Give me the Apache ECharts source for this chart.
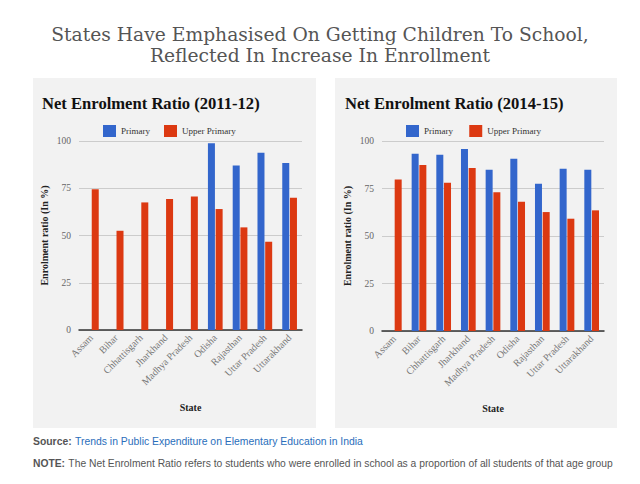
<!DOCTYPE html>
<html><head><meta charset="utf-8">
<style>html,body{margin:0;padding:0;background:#fff;}#c{width:640px;height:484px;}</style>
<script src="https://cdn.jsdelivr.net/npm/echarts@6/dist/echarts.min.js"></script>
</head><body><div id="c"></div>
<script>
const states = ['Assam','Bihar','Chhattisgarh','Jharkhand','Madhya Pradesh','Odisha','Rajasthan','Uttar Pradesh','Uttarakhand'];
const primary2011 = [null,null,null,null,null,98.8,87,93.8,88.4];
const upper2011 = [74.5,52.5,67.5,69.3,70.7,64,54.3,46.7,70];
const primary2014 = [null,93.3,92.8,95.8,84.9,90.7,77.5,85.4,84.9];
const upper2014 = [79.8,87.4,78,85.8,73,68,62.6,59.1,63.5];
const yTicks = [0,25,50,75,100];

const serif = '"Liberation Serif","DejaVu Serif",serif';
const wideSerif = '"DejaVu Serif",serif';
const sans = '"Liberation Sans",Arial,sans-serif';
const blue = '#3366cc', red = '#dc3912';

const chart = echarts.init(document.getElementById('c'), null, {renderer:'svg'});
const grids = [
  {left:79, top:141, width:223, height:189},
  {left:382, top:141, width:222, height:190}
];
function xAx(i){return {type:'category', gridIndex:i, data:states,
  axisTick:{show:false}, axisLine:{lineStyle:{color:'#333',width:1.5}},
  axisLabel:{rotate:45, interval:0, color:'#777', fontFamily:serif, fontSize:10, margin:6},
  name:'State', nameLocation:'middle', nameGap:72,
  nameTextStyle:{fontFamily:serif, fontWeight:'bold', fontSize:10, color:'#222'}};}
function yAx(i){return {type:'value', gridIndex:i, min:0, max:100, interval:25,
  axisLine:{show:false}, axisTick:{show:false},
  splitLine:{lineStyle:{color:'#ccc'}},
  axisLabel:{color:'#666', fontFamily:serif, fontSize:9.5, margin:8,
    formatter:v=>yTicks.includes(v)?String(v):''},
  name:'Enrolment ratio (In %)', nameLocation:'middle', nameGap:30, nameRotate:90,
  nameTextStyle:{fontFamily:serif, fontWeight:'bold', fontSize:10, color:'#222'}};}
function bar(name,data,i,color){return {type:'bar', name:name, data:data, xAxisIndex:i, yAxisIndex:i,
  barWidth:7, barGap:'10%', itemStyle:{color:color}, animation:false};}
function legend(left,names){return {left:left, top:120, itemWidth:13, itemHeight:12, itemGap:14, icon:'rect',
  data:names, textStyle:{fontFamily:serif, fontSize:9, color:'#333'}};}
function head(text,top){return {text:text, left:320, top:top, textAlign:'center', padding:0,
  textStyle:{fontFamily:wideSerif, fontWeight:'normal', fontSize:18.7, color:'#555', lineHeight:20}};}

chart.setOption({
  backgroundColor:'#fff',
  animation:false,
  graphic:[
    {type:'rect', shape:{x:33,y:78,width:283,height:350}, style:{fill:'#f2f2f2'}, z:-10},
    {type:'rect', shape:{x:335,y:78,width:282,height:350}, style:{fill:'#f2f2f2'}, z:-10},
    {type:'text', left:33, top:435, style:{rich:{
        b:{fontFamily:sans, fontWeight:'bold', fontSize:10.4, fill:'#555'},
        l:{fontFamily:sans, fontSize:10.4, fill:'#2a6ebb'}},
      text:'{b|Source:} {l|Trends in Public Expenditure on Elementary Education in India}'}},
    {type:'text', left:33, top:457, style:{rich:{
        b:{fontFamily:sans, fontWeight:'bold', fontSize:10.3, fill:'#555'},
        t:{fontFamily:sans, fontSize:10.3, fill:'#555'}},
      text:'{b|NOTE:} {t|The Net Enrolment Ratio refers to students who were enrolled in school as a proportion of all students of that age group}'}}
  ],
  title:[
    head('States Have Emphasised On Getting Children To School,',24),
    head('Reflected In Increase In Enrollment',45),
    {text:'Net Enrolment Ratio (2011-12)', left:37, top:90,
     textStyle:{fontFamily:serif, fontWeight:'bold', fontSize:16.6, color:'#111'}},
    {text:'Net Enrolment Ratio (2014-15)', left:340, top:90,
     textStyle:{fontFamily:serif, fontWeight:'bold', fontSize:16.6, color:'#111'}}
  ],
  legend:[legend(98,['Primary','Upper Primary']), legend(401,['Primary ','Upper Primary '])],
  grid:grids,
  xAxis:[xAx(0),xAx(1)],
  yAxis:[yAx(0),yAx(1)],
  series:[
    bar('Primary',primary2011,0,blue), bar('Upper Primary',upper2011,0,red),
    bar('Primary ',primary2014,1,blue), bar('Upper Primary ',upper2014,1,red)
  ]
});
</script></body></html>
